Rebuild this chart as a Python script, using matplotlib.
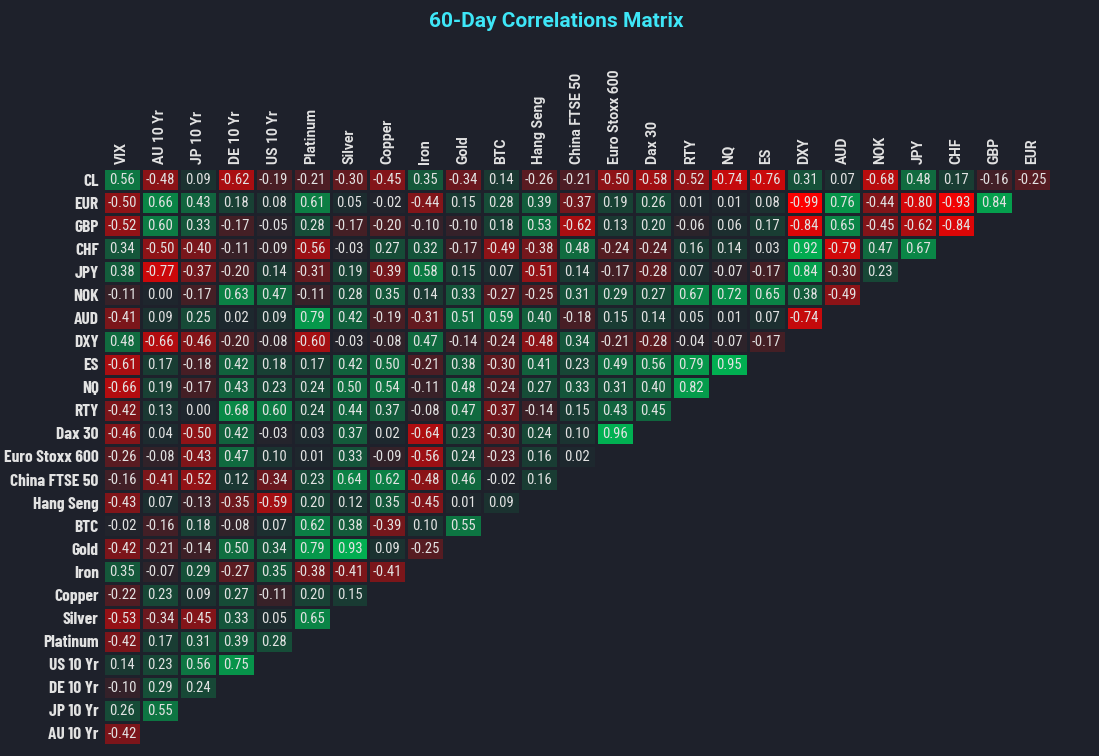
import matplotlib
matplotlib.use("Agg")
import matplotlib.pyplot as plt
import numpy as np
from matplotlib.colors import LinearSegmentedColormap
from matplotlib import font_manager

# Kolumny (od lewej) i wiersze (od góry)
columns = ["VIX", "AU 10 Yr", "JP 10 Yr", "DE 10 Yr", "US 10 Yr", "Platinum", "Silver",
           "Copper", "Iron", "Gold", "BTC", "Hang Seng", "China FTSE 50", "Euro Stoxx 600",
           "Dax 30", "RTY", "NQ", "ES", "DXY", "AUD", "NOK", "JPY", "CHF", "GBP", "EUR"]
rows = ["CL", "EUR", "GBP", "CHF", "JPY", "NOK", "AUD", "DXY", "ES", "NQ", "RTY", "Dax 30",
        "Euro Stoxx 600", "China FTSE 50", "Hang Seng", "BTC", "Gold", "Iron", "Copper",
        "Silver", "Platinum", "US 10 Yr", "DE 10 Yr", "JP 10 Yr", "AU 10 Yr"]

cl = [0.56, -0.48, 0.09, -0.62, -0.19, -0.21, -0.30, -0.45, 0.35, -0.34, 0.14, -0.26, -0.21,
      -0.50, -0.58, -0.52, -0.74, -0.76, 0.31, 0.07, -0.68, 0.48, 0.17, -0.16, -0.25]
eur = [-0.50, 0.66, 0.43, 0.18, 0.08, 0.61, 0.05, -0.02, -0.44, 0.15, 0.28, 0.39, -0.37,
       0.19, 0.26, 0.01, 0.01, 0.08, -0.99, 0.76, -0.44, -0.80, -0.93, 0.84]
gbp = [-0.52, 0.60, 0.33, -0.17, -0.05, 0.28, -0.17, -0.20, -0.10, -0.10, 0.18, 0.53, -0.62,
       0.13, 0.20, -0.06, 0.06, 0.17, -0.84, 0.65, -0.45, -0.62, -0.84]
chf = [0.34, -0.50, -0.40, -0.11, -0.09, -0.56, -0.03, 0.27, 0.32, -0.17, -0.49, -0.38, 0.48,
       -0.24, -0.24, 0.16, 0.14, 0.03, 0.92, -0.79, 0.47, 0.67]
jpy = [0.38, -0.77, -0.37, -0.20, 0.14, -0.31, 0.19, -0.39, 0.58, 0.15, 0.07, -0.51, 0.14,
       -0.17, -0.28, 0.07, -0.07, -0.17, 0.84, -0.30, 0.23]
nok = [-0.11, 0.00, -0.17, 0.63, 0.47, -0.11, 0.28, 0.35, 0.14, 0.33, -0.27, -0.25, 0.31,
       0.29, 0.27, 0.67, 0.72, 0.65, 0.38, -0.49]
aud = [-0.41, 0.09, 0.25, 0.02, 0.09, 0.79, 0.42, -0.19, -0.31, 0.51, 0.59, 0.40, -0.18,
       0.15, 0.14, 0.05, 0.01, 0.07, -0.74]
dxy = [0.48, -0.66, -0.46, -0.20, -0.08, -0.60, -0.03, -0.08, 0.47, -0.14, -0.24, -0.48, 0.34,
       -0.21, -0.28, -0.04, -0.07, -0.17]
es = [-0.61, 0.17, -0.18, 0.42, 0.18, 0.17, 0.42, 0.50, -0.21, 0.38, -0.30, 0.41, 0.23,
      0.49, 0.56, 0.79, 0.95]
nq = [-0.66, 0.19, -0.17, 0.43, 0.23, 0.24, 0.50, 0.54, -0.11, 0.48, -0.24, 0.27, 0.33,
      0.31, 0.40, 0.82]
rty = [-0.42, 0.13, 0.00, 0.68, 0.60, 0.24, 0.44, 0.37, -0.08, 0.47, -0.37, -0.14, 0.15,
       0.43, 0.45]
dax = [-0.46, 0.04, -0.50, 0.42, -0.03, 0.03, 0.37, 0.02, -0.64, 0.23, -0.30, 0.24, 0.10, 0.96]
stoxx = [-0.26, -0.08, -0.43, 0.47, 0.10, 0.01, 0.33, -0.09, -0.56, 0.24, -0.23, 0.16, 0.02]
china = [-0.16, -0.41, -0.52, 0.12, -0.34, 0.23, 0.64, 0.62, -0.48, 0.46, -0.02, 0.16]
hang_seng = [-0.43, 0.07, -0.13, -0.35, -0.59, 0.20, 0.12, 0.35, -0.45, 0.01, 0.09]
btc = [-0.02, -0.16, 0.18, -0.08, 0.07, 0.62, 0.38, -0.39, 0.10, 0.55]
gold = [-0.42, -0.21, -0.14, 0.50, 0.34, 0.79, 0.93, 0.09, -0.25]
iron = [0.35, -0.07, 0.29, -0.27, 0.35, -0.38, -0.41, -0.41]
copper = [-0.22, 0.23, 0.09, 0.27, -0.11, 0.20, 0.15]
silver = [-0.53, -0.34, -0.45, 0.33, 0.05, 0.65]
platinum = [-0.42, 0.17, 0.31, 0.39, 0.28]
us10 = [0.14, 0.23, 0.56, 0.75]
de10 = [-0.10, 0.29, 0.24]
jp10 = [0.26, 0.55]
au10 = [-0.42]

row_values = [cl, eur, gbp, chf, jpy, nok, aud, dxy, es, nq, rty, dax, stoxx, china,
              hang_seng, btc, gold, iron, copper, silver, platinum, us10, de10, jp10, au10]

BG = "#1e212b"
TXT = "#e2e2e2"

# waskie czcionki jesli sa zainstalowane, inaczej Roboto w mniejszym rozmiarze
names = set(f.name for f in font_manager.fontManager.ttflist)


def pick(cands, fallback):
    for fam, size in cands:
        if fam in names:
            return dict(family=[fam, "DejaVu Sans"], fontsize=size)
    return fallback


row_font = pick([("Barlow Condensed", 12.5), ("Roboto Condensed", 11), ("Open Sans Condensed", 10.5)],
                dict(family=["Roboto", "DejaVu Sans"], fontsize=8.5))
val_font = pick([("Roboto Condensed", 10.5), ("Archivo Narrow", 10.5), ("PT Sans Narrow", 11)],
                dict(family=["DejaVu Sans"], fontsize=9.5))

n_r, n_c = len(rows), len(columns)
mat = np.full((n_r, n_c), np.nan)
for i, vals in enumerate(row_values):
    mat[i, :len(vals)] = vals
mat = np.ma.masked_invalid(mat)

cmap = LinearSegmentedColormap.from_list(
    "rg", [(0.0, "#ff0000"), (0.5, "#1e252d"), (1.0, "#00b653")])

plt.rcParams["font.family"] = ["Roboto", "DejaVu Sans"]

fig = plt.figure(figsize=(10.99, 7.56), dpi=100, facecolor=BG)
ax = fig.add_axes([103 / 1099, 1 - 745 / 756, 948 / 1099, 577 / 756])
ax.set_facecolor(BG)

ax.pcolormesh(np.arange(n_c + 1), np.arange(n_r + 1), mat, cmap=cmap, vmin=-1, vmax=1,
              edgecolors=BG, linewidth=2.0)
ax.set_xlim(0, n_c)
ax.set_ylim(n_r, 0)

for i in range(n_r):
    for j in range(n_c):
        if not np.ma.is_masked(mat[i, j]):
            ax.text(j + 0.5, i + 0.52, "%.2f" % mat[i, j], ha="center", va="center",
                    color=TXT, **val_font)

ax.xaxis.tick_top()
ax.set_xticks(np.arange(n_c) + 0.5)
ax.set_xticklabels(columns, rotation=90, fontsize=10, fontweight="bold", color=TXT)
ax.set_yticks(np.arange(n_r) + 0.5)
ax.set_yticklabels(rows, fontweight="bold", color=TXT, **row_font)
ax.tick_params(length=0, pad=3)
for s in ax.spines.values():
    s.set_visible(False)

fig.text(0.506, 0.971, "60-Day Correlations Matrix", ha="center", va="center",
         color="#3ee6f7", fontsize=15, fontweight="bold")

fig.savefig("out.png", dpi=100, facecolor=BG)
